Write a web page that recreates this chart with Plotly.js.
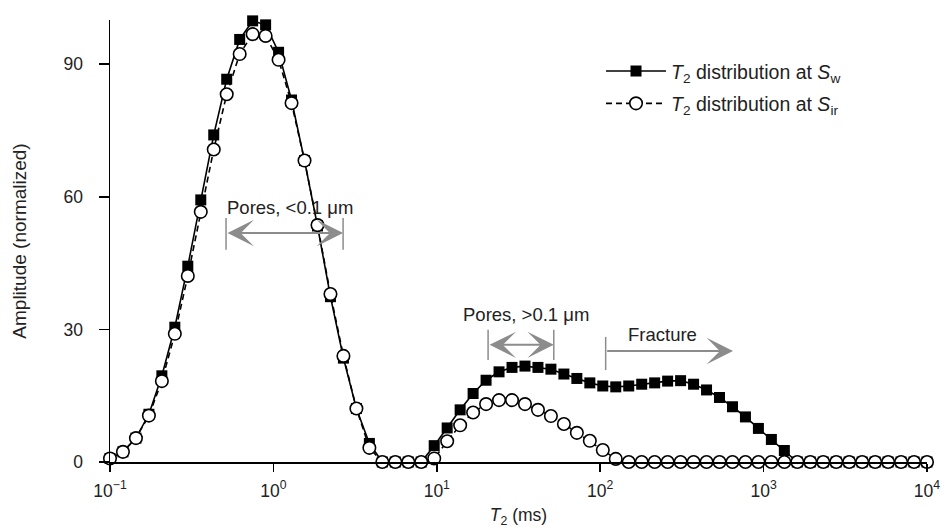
<!DOCTYPE html>
<html>
<head>
<meta charset="utf-8">
<script src="https://cdn.plot.ly/plotly-3.0.1.min.js"></script>
<style>
html,body{margin:0;padding:0;background:#fff;}
#chart{width:944px;height:528px;}
</style>
</head>
<body>
<div id="chart"></div>
<script>
// T2 bins (ms), log-spaced
const t2 = [0.1, 0.1200, 0.1441, 0.1730, 0.2077, 0.2493, 0.2993, 0.3594, 0.4314, 0.5179,
  0.6218, 0.7464, 0.8961, 1.0758, 1.2915, 1.5505, 1.8615, 2.2347, 2.6827, 3.2207,
  3.8664, 4.6416, 5.5722, 6.6896, 8.0309, 9.6411, 11.574, 13.895, 16.681, 20.025,
  24.040, 28.861, 34.647, 41.595, 49.935, 59.948, 71.969, 86.400, 103.72, 124.52,
  149.49, 179.46, 215.44, 258.64, 310.50, 372.76, 447.51, 537.24, 644.97, 774.26,
  929.51, 1115.9, 1339.6, 1608.2, 1930.7, 2317.8, 2782.6, 3340.5, 4010.3, 4814.5,
  5779.8, 6938.7, 8330.0, 10000];

// Amplitude at Sw (filled squares)
const ampSw = [0.8, 2.3, 5.4, 10.8, 19.5, 30.5, 44.3, 59.3, 74.0, 86.6,
  95.6, 99.8, 98.9, 92.7, 81.9, 68.2, 53.4, 37.4, 23.5, 12.1,
  4.2, 0, 0, 0, 0, 3.7, 7.7, 11.8, 15.5, 18.5,
  20.4, 21.4, 21.7, 21.4, 21.0, 19.9, 18.9, 17.9, 17.2, 17.0,
  17.2, 17.6, 17.9, 18.3, 18.4, 17.6, 16.3, 14.6, 12.5, 10.2,
  7.6, 5.1, 2.6, 0, 0, 0, 0, 0, 0, 0,
  0, 0, 0, 0];

// Amplitude at Sir (open circles)
const ampSir = [0.8, 2.3, 5.4, 10.5, 18.3, 29.0, 42.1, 56.6, 70.7, 83.2,
  92.3, 96.8, 96.4, 91.0, 81.2, 68.2, 53.6, 38.0, 24.0, 12.1,
  3.2, 0, 0, 0, 0, 0.8, 4.7, 8.3, 11.2, 13.1,
  14.0, 14.0, 13.1, 11.8, 10.4, 8.6, 6.6, 4.8, 2.7, 0.7,
  0, 0, 0, 0, 0, 0, 0, 0, 0, 0,
  0, 0, 0, 0, 0, 0, 0, 0, 0, 0,
  0, 0, 0, 0];

const xTickVals = [0.1, 1, 10, 100, 1000, 10000];
const xTickText = ['10<sup>\u22121</sup>', '10<sup>0</sup>', '10<sup>1</sup>', '10<sup>2</sup>', '10<sup>3</sup>', '10<sup>4</sup>'];
const yTickVals = [0, 30, 60, 90];

const FONT = 'Liberation Sans, Arial, Helvetica, sans-serif';
const GRAY = '#8c8c8c';
const TXT = '#222';

const traces = [
  {
    x: t2, y: ampSw, type: 'scatter', mode: 'lines+markers',
    name: '<i>T</i><sub>2</sub> distribution at <i>S</i><sub>w</sub>',
    legendgroup: 'sw',
    line: {color: '#000', width: 1.6},
    marker: {symbol: 'square', size: 11, color: '#000', line: {width: 0}},
    cliponaxis: false
  },
  {
    x: t2, y: ampSir, type: 'scatter', mode: 'lines+markers',
    name: '<i>T</i><sub>2</sub> distribution at <i>S</i><sub>ir</sub>',
    legendgroup: 'sir',
    line: {color: '#000', width: 1.6, dash: '6px,4px'},
    marker: {symbol: 'circle', size: 12.5, color: '#fff', line: {color: '#000', width: 1.6}},
    cliponaxis: false
  }
];

function lg(v){ return Math.log10(v); }

const ARW = {arrowhead: 3, arrowsize: 2.2, arrowwidth: 2, arrowcolor: GRAY, standoff: 0};

const annotations = [
  {x: lg(1.26), y: 57.5, xref: 'x', yref: 'y', text: 'Pores, <0.1 \u03bcm', showarrow: false, font: {size: 18.5, color: TXT, family: FONT}},
  {x: lg(35.2), y: 33.4, xref: 'x', yref: 'y', text: 'Pores, >0.1 \u03bcm', showarrow: false, font: {size: 18.5, color: TXT, family: FONT}},
  {x: lg(242), y: 28.8, xref: 'x', yref: 'y', text: 'Fracture', showarrow: false, font: {size: 18.5, color: TXT, family: FONT}},
  Object.assign({x: lg(2.67), y: 51.8, ax: lg(0.513), ay: 51.8, xref: 'x', yref: 'y', axref: 'x', ayref: 'y', text: '', showarrow: true,
    startarrowhead: 3, arrowside: 'end+start', startarrowsize: 2.2, startstandoff: 0}, ARW),
  Object.assign({x: lg(52), y: 26.5, ax: lg(20.6), ay: 26.5, xref: 'x', yref: 'y', axref: 'x', ayref: 'y', text: '', showarrow: true,
    startarrowhead: 3, arrowside: 'end+start', startarrowsize: 2.2, startstandoff: 0}, ARW),
  Object.assign({x: lg(650), y: 25.1, ax: lg(108), ay: 25.1, xref: 'x', yref: 'y', axref: 'x', ayref: 'y', text: '', showarrow: true}, ARW)
];

const BAR = {color: GRAY, width: 1.5};
const shapes = [
  {type: 'line', xref: 'x', yref: 'y', x0: 0.513, x1: 0.513, y0: 48, y1: 55.2, line: BAR},
  {type: 'line', xref: 'x', yref: 'y', x0: 2.67, x1: 2.67, y0: 48, y1: 55.2, line: BAR},
  {type: 'line', xref: 'x', yref: 'y', x0: 20.6, x1: 20.6, y0: 23.1, y1: 29.9, line: BAR},
  {type: 'line', xref: 'x', yref: 'y', x0: 52, x1: 52, y0: 23.1, y1: 29.9, line: BAR},
  {type: 'line', xref: 'x', yref: 'y', x0: 108, x1: 108, y0: 20.8, y1: 28.3, line: BAR}
];

const layout = {
  width: 944, height: 528,
  margin: {l: 110, r: 17, t: 20, b: 66},
  paper_bgcolor: '#fff', plot_bgcolor: '#fff',
  font: {family: FONT, size: 17, color: TXT},
  showlegend: true,
  legend: {x: 0.601, y: 0.928, xanchor: 'left', yanchor: 'top', bgcolor: 'rgba(0,0,0,0)',
           font: {size: 19.5, color: TXT, family: FONT}, itemwidth: 60, tracegroupgap: 4},
  xaxis: {
    type: 'log', range: [-1, 4],
    tickvals: xTickVals, ticktext: xTickText,
    ticks: 'outside', ticklen: 8, tickwidth: 1.5, tickcolor: '#000',
    showline: true, linecolor: '#000', linewidth: 1.5,
    showgrid: false, zeroline: false,
    ticklabelstandoff: 4,
    tickfont: {size: 17.5, color: TXT},
    title: {text: '<i>T</i><sub>2</sub> (ms)', font: {size: 17.5, color: TXT}, standoff: 14}
  },
  yaxis: {
    range: [0, 100],
    tickvals: yTickVals,
    ticks: 'outside', ticklen: 10, tickwidth: 1.5, tickcolor: '#000',
    showline: true, linecolor: '#000', linewidth: 1.5,
    showgrid: false, zeroline: false,
    ticklabelstandoff: 12,
    tickfont: {size: 17.5, color: TXT},
    title: {text: 'Amplitude (normalized)', font: {size: 19, color: TXT}, standoff: 32}
  },
  annotations: annotations,
  shapes: shapes
};

Plotly.newPlot('chart', traces, layout, {displayModeBar: false, staticPlot: true});
</script>
</body>
</html>
